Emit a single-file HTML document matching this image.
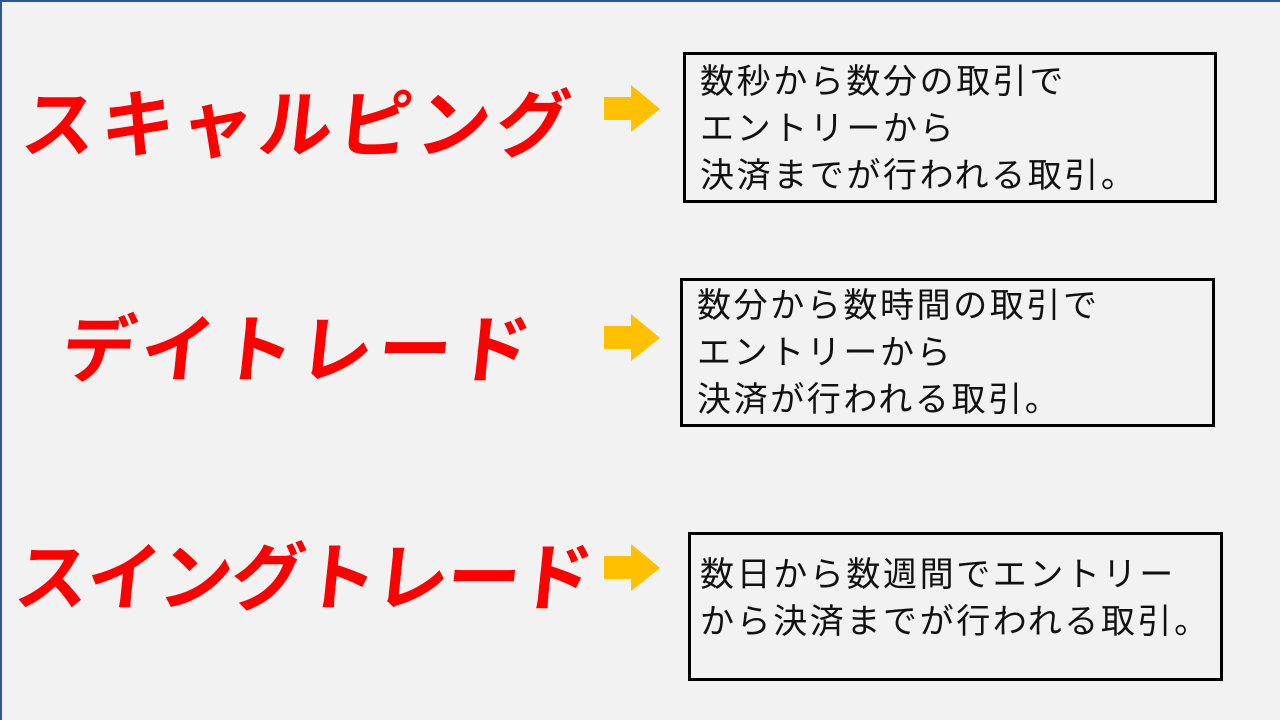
<!DOCTYPE html>
<html><head><meta charset="utf-8"><style>
body{margin:0;width:1280px;height:720px;background:#f2f2f2;position:relative;overflow:hidden;font-family:"Liberation Sans","Noto Sans CJK JP",sans-serif}
.frame{position:absolute;left:0;top:0;width:1280px;height:720px;border-left:2px solid #2f5597;border-top:2px solid #2f5597;box-sizing:border-box}
.t{position:absolute;color:#ff0000;font-weight:700;font-size:74px;white-space:nowrap;transform:skewX(-6deg);line-height:1}
.b{position:absolute;border:3px solid #000;box-sizing:border-box;font-size:34px;letter-spacing:2.6px;line-height:47px;padding-left:14px;color:#111;white-space:nowrap}
svg{position:absolute}
</style></head><body>
<div class="frame"></div>
<div class="t" style="left:22px;top:89px;letter-spacing:5px">スキャルピング</div>
<div class="t" style="left:62px;top:314px;letter-spacing:5px">デイトレード</div>
<div class="t" style="left:15px;top:542px;letter-spacing:-2px">スイングトレード</div>
<svg style="left:604px;top:85px" width="58" height="48"><polygon points="0,12 27,12 27,0 56,24 27,47 27,35 0,35" fill="#ffc000"/></svg>
<svg style="left:604px;top:314px" width="58" height="48"><polygon points="0,12 27,12 27,0 56,24 27,47 27,35 0,35" fill="#ffc000"/></svg>
<svg style="left:604px;top:544px" width="58" height="48"><polygon points="0,12 27,12 27,0 56,24 27,47 27,35 0,35" fill="#ffc000"/></svg>
<div class="b" style="left:683px;top:52px;width:534px;height:151px;padding-top:4px">数秒から数分の取引で<br>エントリーから<br>決済までが行われる取引。</div>
<div class="b" style="left:680px;top:278px;width:535px;height:149px;padding-top:2px">数分から数時間の取引で<br>エントリーから<br>決済が行われる取引。</div>
<div class="b" style="left:688px;top:532px;width:535px;height:149px;padding-top:17px;padding-left:9px">数日から数週間でエントリー<br>から決済までが行われる取引。</div>
</body></html>
